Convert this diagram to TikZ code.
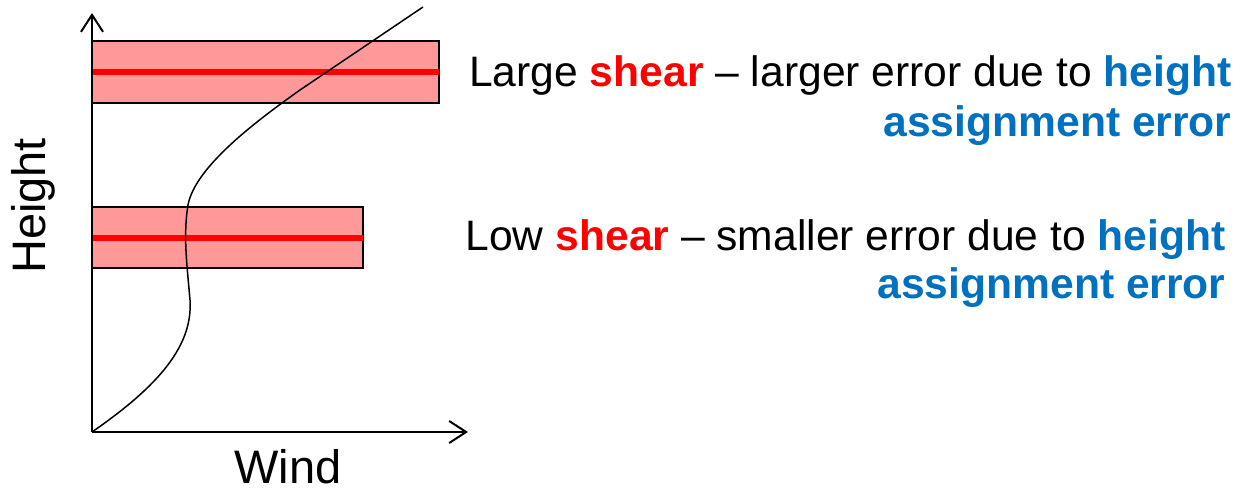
\documentclass[tikz,border=0pt]{standalone}
\usepackage{fontspec}
\setmainfont{Liberation Sans}
\usetikzlibrary{arrows.meta}
\definecolor{boxfill}{HTML}{FF9999}
\definecolor{shearred}{HTML}{FF0000}
\definecolor{errblue}{HTML}{0070C0}
\tikzset{
  axis/.style={line width=1pt,-{Straight Barb[length=8.5pt,width=11pt,line width=1pt]}},
  band/.style={draw=black,line width=0.8pt,fill=boxfill,inner sep=0pt,outer sep=0pt},
  centerline/.style={shearred,line width=3pt},
  profile/.style={line width=0.75pt},
  desc/.style={font=\fontsize{21.3}{25}\selectfont,inner sep=0pt,anchor=base east},
  axlabel/.style={font=\fontsize{23.5}{28}\selectfont,inner sep=0pt},
}
\newcommand{\shr}{\textbf{\textcolor{shearred}{shear}}}
\newcommand{\blu}[1]{\textbf{\textcolor{errblue}{#1}}}
\begin{document}
\begin{tikzpicture}[x=0.5pt,y=-0.5pt]
\useasboundingbox (0,0) rectangle (1240,492);
% bands
\node[band,minimum width=173.5pt,minimum height=31pt,anchor=north west] (upper) at (92,41) {};
\node[band,minimum width=135.5pt,minimum height=30.5pt,anchor=north west] (lower) at (92,207) {};
\draw[centerline] (upper.west) -- (upper.east);
\draw[centerline] (lower.west) -- (lower.east);
% axes
\coordinate (O) at (92,432);
\coordinate (Ytip) at (92,13);
\coordinate (Xtip) at (468,432);
\draw[axis] (O) -- (Ytip);
\draw[axis] (O) -- (Xtip);
% wind profile
\coordinate (P1) at (190,300);
\coordinate (P2) at (188,205);
\coordinate (P3) at (300,90);
\coordinate (Pend) at (423,7);
\draw[profile] (O) .. controls (160,385) and (193,345) .. (P1)
  .. controls (187,265) and (183,235) .. (P2)
  .. controls (195,168) and (252,124) .. (P3)
  .. controls (340,63) and (380,36) .. (Pend);
% labels
\node[axlabel,rotate=90] (hlab) at (33,206) {Height};
\node[axlabel] (wlab) at (288,467) {Wind};
% descriptions
\node[desc] (l1a) at (1232,87) {Large \shr{} – larger error due to \blu{height}};
\node[desc] (l1b) at (1232,136) {\blu{assignment error}};
\node[desc] (l2a) at (1226,250) {Low \shr{} – smaller error due to \blu{height}};
\node[desc] (l2b) at (1226,298) {\blu{assignment error}};
\end{tikzpicture}
\end{document}
